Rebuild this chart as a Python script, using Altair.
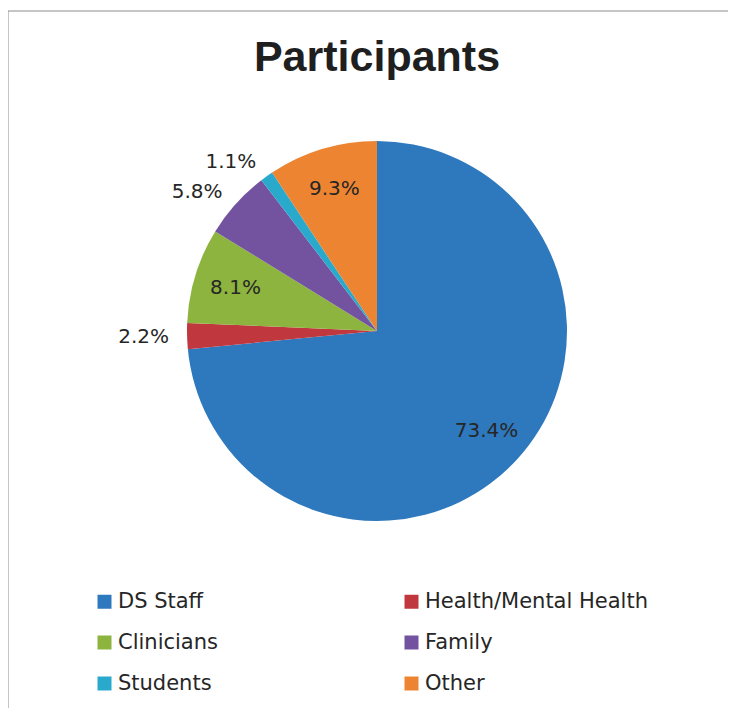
import altair as alt
import pandas as pd

categories = ["DS Staff", "Health/Mental Health", "Clinicians", "Family", "Students", "Other"]
shares = [73.4, 2.2, 8.1, 5.8, 1.1, 9.3]
colors = ["#2e78bd", "#c0373d", "#8db43e", "#7352a0", "#29a9cc", "#ec8431"]
# legend reads row by row in two columns; Vega fills columns first
legend_order = ["DS Staff", "Clinicians", "Students", "Health/Mental Health", "Family", "Other"]

df = pd.DataFrame({"category": categories, "share": shares, "idx": list(range(len(categories)))})
color_of = dict(zip(categories, colors))

W, H = 720, 700
CX, CY = 369, 323
FRAME = "#8c8c8c"

base = alt.Chart(df).encode(
    theta=alt.Theta("share:Q", stack=True),
    order=alt.Order("idx:Q"),
    x=alt.value(CX),
    y=alt.value(CY),
)

pie = base.mark_arc(outerRadius=190).encode(
    color=alt.Color(
        "category:N",
        scale=alt.Scale(domain=legend_order, range=[color_of[c] for c in legend_order]),
        legend=alt.Legend(
            title=None,
            orient="none",
            legendX=86,
            legendY=583,
            columns=2,
            symbolType="square",
            symbolSize=196,
            symbolStrokeWidth=0,
            symbolOpacity=1,
            labelFont="DejaVu Sans",
            labelFontSize=21,
            labelColor="#262626",
            labelOffset=3,
            rowPadding=19,
            columnPadding=60,
            gridAlign="all",
            labelLimit=400,
        ),
    )
)

inner = base.transform_calculate(
    lab="datum.share >= 8 ? format(datum.share, '.1f') + '%' : ''"
).mark_text(
    radius=148, font="DejaVu Sans", fontSize=20, color="#262626", align="center", baseline="middle"
).encode(text="lab:N", detail="category:N")

outer = base.transform_calculate(
    lab="datum.share < 8 ? format(datum.share, '.1f') + '%' : ''"
).mark_text(
    radius=208, font="DejaVu Sans", fontSize=20, color="#262626", align="right", baseline="middle"
).encode(text="lab:N", detail="category:N")

one = pd.DataFrame({"a": [0]})
top_rule = alt.Chart(one).mark_rule(color=FRAME, strokeWidth=1).encode(
    x=alt.value(0), x2=alt.value(W), y=alt.value(3)
)
left_rule = alt.Chart(one).mark_rule(color=FRAME, strokeWidth=1).encode(
    x=alt.value(0), y=alt.value(3), y2=alt.value(H)
)

chart = alt.layer(pie, inner, outer, top_rule, left_rule).properties(
    width=W,
    height=H,
    padding=0,
    autosize=alt.AutoSizeParams(type="none"),
    title=alt.Title(
        "Participants",
        font="Liberation Sans",
        fontSize=43,
        fontWeight="bold",
        color="#1f1f1f",
        anchor="middle",
        orient="top",
        offset=-65,
        baseline="alphabetic",
        dx=9,
        dy=41,
    ),
).configure_view(stroke=None)

chart.save("out.html", embed_options={"renderer": "svg", "actions": False})
